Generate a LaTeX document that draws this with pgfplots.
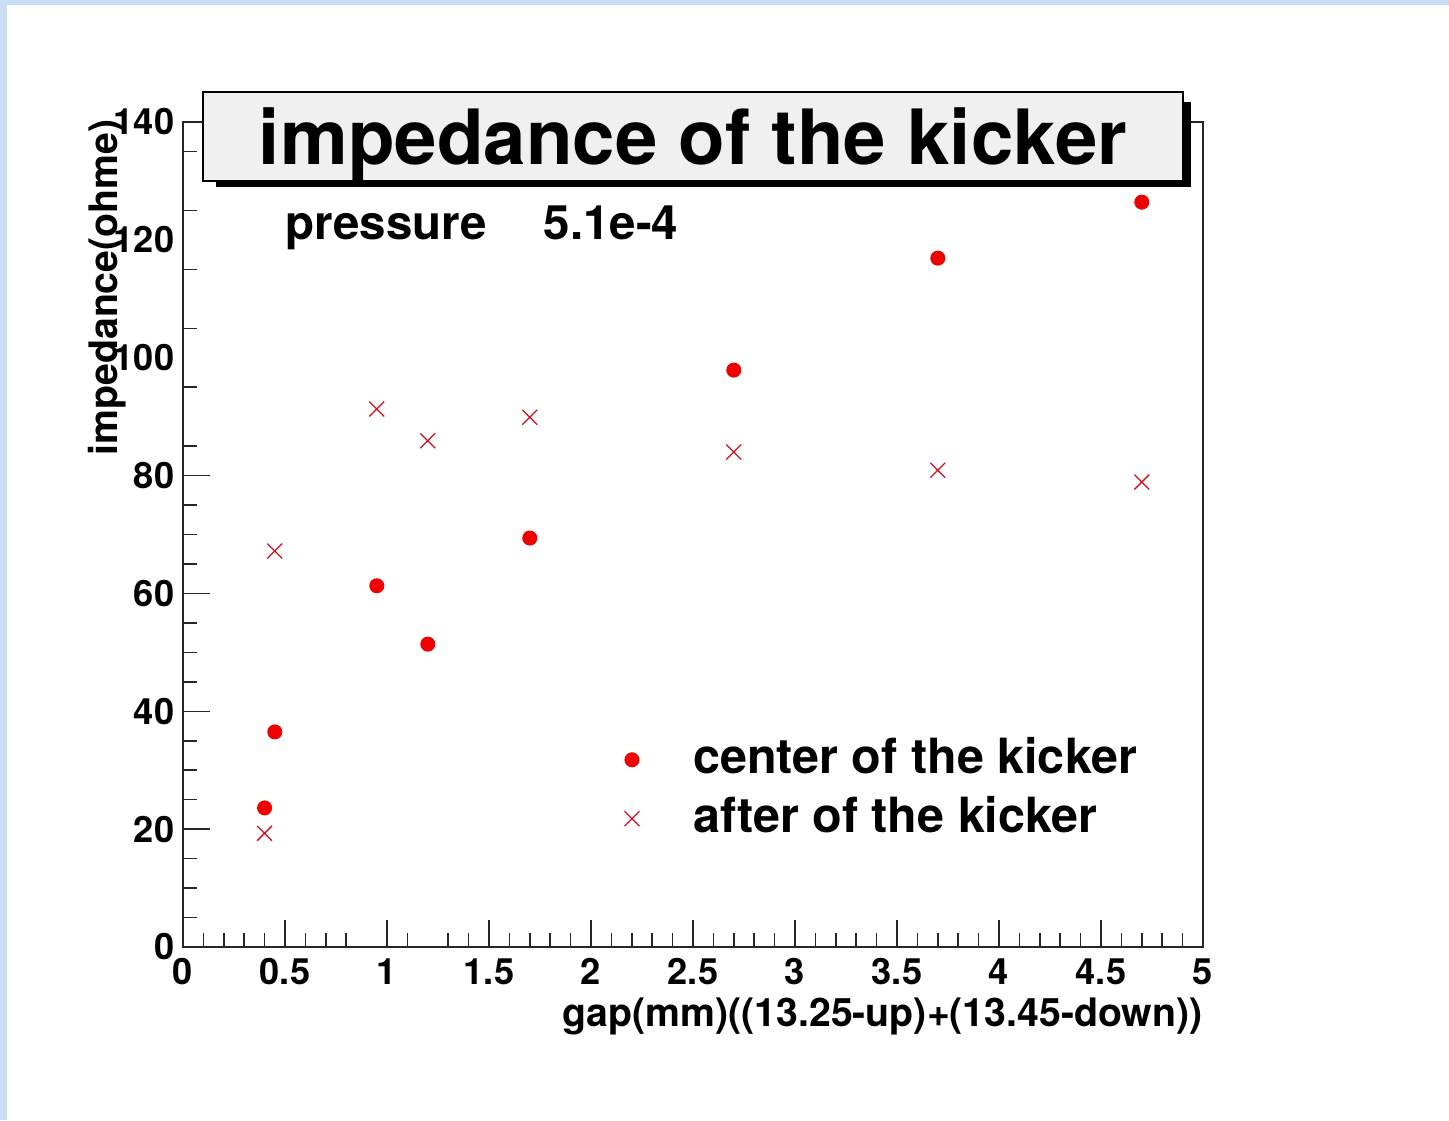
\documentclass[border=0pt]{standalone}
\usepackage{pgfplots}
\pgfplotsset{compat=1.18}
\usepackage{fontspec}
\setmainfont{TeX Gyre Heros}

\definecolor{skyblue}{HTML}{C9DDF4}
\definecolor{titlegray}{HTML}{F0F0F0}
\definecolor{markred}{HTML}{F00000}
\definecolor{crossred}{HTML}{D01020}

\begin{document}
\begin{tikzpicture}[font=\bfseries]
% canvas: 1449 x 1120 units, 0.4pt per unit
\useasboundingbox (0,0) rectangle (579.6pt,448pt);
\fill[skyblue] (0,0) rectangle (579.6pt,448pt);
\fill[white] (2.8pt,0) rectangle (579.6pt,446pt);

\begin{axis}[
  at={(73.2pt,69.2pt)}, anchor=south west,
  scale only axis, width=408pt, height=330pt,
  xmin=0, xmax=5, ymin=0, ymax=140,
  axis line style={line width=0.6pt, black!85},
  tick style={line width=0.6pt, black!85},
  tick align=inside, tick pos=left,
  major tick length=11pt, minor tick length=5.8pt,
  xtick={0,0.5,1,1.5,2,2.5,3,3.5,4,4.5,5},
  xticklabels={0,0.5,1,1.5,2,2.5,3,3.5,4,4.5,5},
  minor xtick={0.1,0.2,0.3,0.4,0.6,0.7,0.8,1.1,1.3,1.4,
               1.6,1.7,1.8,1.9,2.1,2.2,2.3,2.4,2.6,2.7,2.8,2.9,
               3.1,3.2,3.3,3.4,3.6,3.7,3.8,3.9,4.1,4.2,4.3,4.4,
               4.6,4.7,4.8,4.9},
  ytick={0,20,40,60,80},
  minor ytick={5,10,15,25,30,35,45,50,55,65,70,75,85,95,105,115,125,135},
  extra y ticks={100,120,140},
  extra y tick style={major tick style={draw=none}},
  /pgf/number format/assume math mode=true,
  ticklabel style={font=\bfseries\fontsize{14.5}{17}\selectfont},
  xticklabel style={yshift=-1pt},
  xlabel={gap(mm)((13.25-up)+(13.45-down))},
  ylabel={impedance(ohme)},
  xlabel style={at={(axis description cs:1,-0.0958)}, anchor=base east,
                inner sep=0pt, font=\bfseries\fontsize{15.7}{19}\selectfont},
  ylabel style={at={(axis description cs:-0.0647,1.0036)}, anchor=base east,
                inner sep=0pt, font=\bfseries\fontsize{15.7}{19}\selectfont},
  legend cell align=left,
  legend style={
    at={(axis description cs:0.4329,0.2533)}, anchor=north west,
    draw=none, fill=none, inner sep=0pt, outer sep=0pt,
    font=\bfseries\fontsize{19.4}{23}\selectfont,
    cells={anchor=base west},
    nodes={inner sep=0pt, text height=14pt, text depth=0pt},
    row sep=9.6pt, column sep=0pt,
  },
  legend image code/.code={
    \draw[#1] plot coordinates {(0pt,5.3pt)};
    \path[draw=none] (0pt,0pt) -- (24.5pt,0pt);
  },
]

% impedance at the centre of the kicker
\addplot[only marks, mark=*, mark size=2.8pt, color=markred] table {
x    y
0.40 23.6
0.45 36.5
0.95 61.3
1.20 51.4
1.70 69.4
2.70 97.9
3.70 116.9
4.70 126.4
};

% impedance after the kicker
\addplot[only marks, mark=x, mark size=4.2pt, color=crossred,
         mark options={line width=0.5pt}] table {
x    y
0.40 19.3
0.45 67.2
0.95 91.3
1.20 85.9
1.70 89.9
2.70 84.0
3.70 80.9
4.70 78.9
};

\legend{center of the kicker, after of the kicker}

\node[anchor=base west, inner sep=0pt, font=\bfseries\fontsize{19}{23}\selectfont]
  at (axis description cs:0.1000,0.857) {pressure\hspace{22.8pt}5.1e-4};
\end{axis}

% title box with drop shadow
\fill[black] (86.4pt,373.2pt) rectangle (476.4pt,407.2pt);
\filldraw[fill=titlegray, draw=black, line width=0.6pt]
  (81.2pt,375.6pt) rectangle (473.2pt,411.2pt);
\node[anchor=base, inner sep=0pt, font=\bfseries\fontsize{30.5}{36}\selectfont]
  at (277.2pt,382pt) {impedance of the kicker};
\end{tikzpicture}
\end{document}
